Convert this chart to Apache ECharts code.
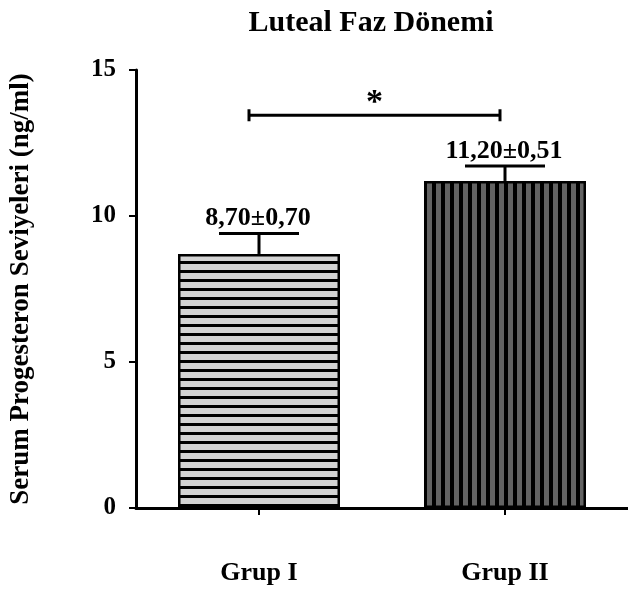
<!DOCTYPE html>
<html>
<head>
<meta charset="utf-8">
<script src="https://cdn.jsdelivr.net/npm/echarts@6/dist/echarts.min.js"></script>
<style>
  html, body { margin: 0; padding: 0; background: #fff; }
  #chartContainer { width: 628px; height: 593px; }
</style>
</head>
<body>
<div id="chartContainer"></div>
<script>
var groupNames = ['Grup I', 'Grup II'];
var meanValues = [8.70, 11.20];
var semValues = [0.70, 0.51];
var valueLabels = ['8,70\u00b10,70', '11,20\u00b10,51'];
var sigLevel = 13.45;   // height of the significance bracket

var fontName = '"Liberation Serif", "Times New Roman", serif';

// striped fills made on a small canvas
function stripePattern(bg, vertical, period, lineW) {
  var c = document.createElement('canvas');
  c.width = vertical ? period : 4;
  c.height = vertical ? 4 : period;
  var ctx = c.getContext('2d');
  ctx.fillStyle = bg;
  ctx.fillRect(0, 0, c.width, c.height);
  ctx.fillStyle = '#000';
  if (vertical) ctx.fillRect(0, 0, lineW, c.height);
  else ctx.fillRect(0, 0, c.width, lineW);
  return { image: c, repeat: 'repeat' };
}
var fills = [stripePattern('#d3d3d3', false, 9, 3), stripePattern('#636363', true, 9, 4)];

var chartDom = document.getElementById('chartContainer');
var chart = echarts.init(chartDom);

var errData = [];
for (var i = 0; i < groupNames.length; i++) {
  errData.push([i, meanValues[i], meanValues[i] + semValues[i]]);
}

var option = {
  animation: false,
  backgroundColor: '#fff',
  title: {
    text: 'Luteal Faz Dönemi',
    left: 366, top: 3, textAlign: 'center',
    textStyle: { fontFamily: fontName, fontWeight: 'bold', fontSize: 30, color: '#000' }
  },
  grid: { left: 121, right: -5, top: 70, bottom: 85 },
  xAxis: {
    type: 'category',
    data: groupNames,
    axisLine: { lineStyle: { color: '#000', width: 3 } },
    axisTick: { show: true, alignWithLabel: true, length: 7, lineStyle: { color: '#000', width: 2 } },
    axisLabel: { margin: 52, fontFamily: fontName, fontWeight: 'bold', fontSize: 26, color: '#000' }
  },
  yAxis: {
    type: 'value',
    min: 0, max: 15, interval: 5,
    name: 'Serum Progesteron Seviyeleri (ng/ml)',
    nameLocation: 'middle',
    nameGap: 101,
    nameTextStyle: { fontFamily: fontName, fontWeight: 'bold', fontSize: 27, color: '#000' },
    axisLine: { show: true, lineStyle: { color: '#000', width: 3 } },
    axisTick: { show: true, length: 7, lineStyle: { color: '#000', width: 2 } },
    splitLine: { show: false },
    axisLabel: { margin: 20, fontFamily: fontName, fontWeight: 'bold', fontSize: 25, color: '#000' }
  },
  series: [{
    type: 'bar',
    barWidth: 162,
    data: meanValues.map(function (v, i) {
      return { value: v, itemStyle: { color: fills[i] } };
    }),
    itemStyle: { borderColor: '#000', borderWidth: 2.5 }
  }, {
    type: 'custom',
    data: errData,
    renderItem: function (params, api) {
      var base = api.coord([api.value(0), api.value(1)]);
      var top = api.coord([api.value(0), api.value(2)]);
      var half = 40;
      var idx = params.dataIndex;
      return {
        type: 'group',
        children: [{
          type: 'line',
          shape: { x1: base[0], y1: base[1], x2: top[0], y2: top[1] },
          style: { stroke: '#000', lineWidth: 3 }
        }, {
          type: 'line',
          shape: { x1: top[0] - half, y1: top[1], x2: top[0] + half, y2: top[1] },
          style: { stroke: '#000', lineWidth: 3 }
        }, {
          type: 'text',
          x: top[0] - 1, y: top[1] - 2,
          style: {
            text: valueLabels[idx], align: 'center', verticalAlign: 'bottom',
            font: 'bold 26px ' + fontName, fill: '#000'
          }
        }]
      };
    },
    z: 5
  }, {
    type: 'custom',
    data: [[0, sigLevel]],
    renderItem: function (params, api) {
      var a = api.coord([0, sigLevel]);
      var b = api.coord([1, sigLevel]);
      a[0] -= 10; b[0] -= 5;
      var mid = (a[0] + b[0]) / 2;
      return {
        type: 'group',
        children: [{
          type: 'line',
          shape: { x1: a[0], y1: a[1], x2: b[0], y2: b[1] },
          style: { stroke: '#000', lineWidth: 3 }
        }, {
          type: 'line',
          shape: { x1: a[0], y1: a[1] - 6, x2: a[0], y2: a[1] + 6 },
          style: { stroke: '#000', lineWidth: 3 }
        }, {
          type: 'line',
          shape: { x1: b[0], y1: b[1] - 6, x2: b[0], y2: b[1] + 6 },
          style: { stroke: '#000', lineWidth: 3 }
        }, {
          type: 'text',
          x: mid, y: a[1] - 29,
          style: {
            text: '*', align: 'center', verticalAlign: 'top',
            font: 'bold 34px ' + fontName, fill: '#000'
          }
        }]
      };
    },
    z: 5
  }]
};
chart.setOption(option);
</script>
</body>
</html>
